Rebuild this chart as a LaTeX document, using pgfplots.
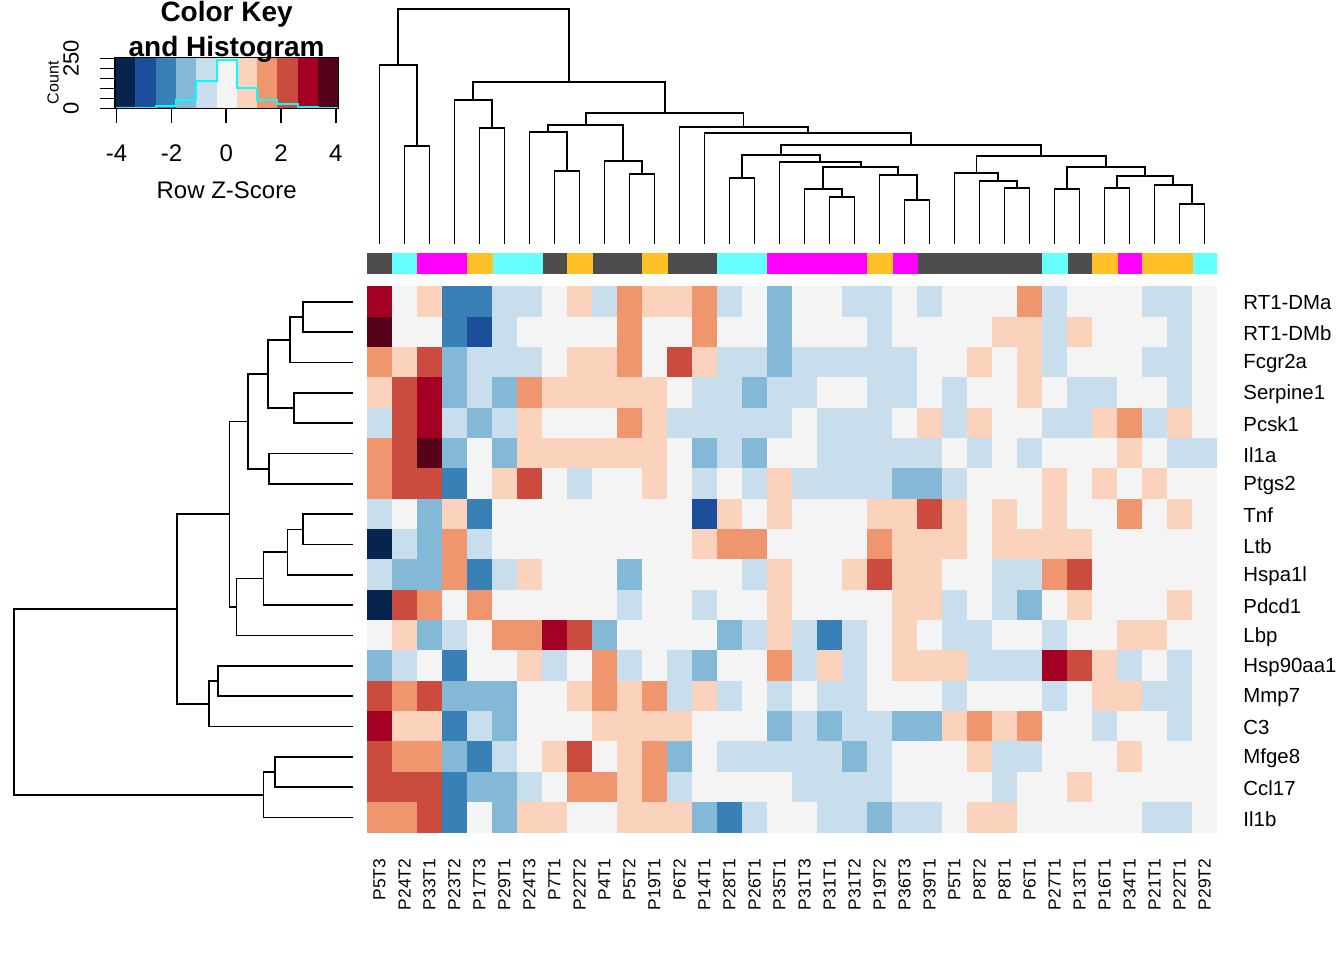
\documentclass[border=0pt]{standalone}
\usepackage{fontspec}
\setmainfont{Liberation Sans}
\usepackage{pgfplots}
\pgfplotsset{compat=1.18}
\definecolor{k0}{HTML}{07244F}
\definecolor{k1}{HTML}{1C4F9B}
\definecolor{k2}{HTML}{3980B7}
\definecolor{k3}{HTML}{84B8D7}
\definecolor{k4}{HTML}{C8DEEC}
\definecolor{k5}{HTML}{F4F4F4}
\definecolor{k6}{HTML}{FBD3BD}
\definecolor{k7}{HTML}{F0966F}
\definecolor{k8}{HTML}{CB4B3E}
\definecolor{k9}{HTML}{A30023}
\definecolor{k10}{HTML}{57001A}
\definecolor{gGrey}{HTML}{4D4D4D}
\definecolor{gCyan}{HTML}{66FFFF}
\definecolor{gMag}{HTML}{FF00FF}
\definecolor{gOr}{HTML}{FFC125}
\definecolor{hCyan}{rgb}{0,1,1}
\pgfplotsset{dend/.style={black, line width=0.8pt, mark=none}}
\begin{document}
\begin{tikzpicture}
\useasboundingbox (0,0) rectangle (672pt,480pt);
% ---------------- heatmap ----------------
\begin{axis}[at={(183.5pt,63.65pt)}, anchor=south west, scale only axis,
  width=425pt, height=273pt,
  xmin=-0.5, xmax=33.5, ymin=-0.5, ymax=17.5, y dir=reverse,
  axis line style={draw=none}, major tick length=0pt,
  xtick={0,...,33},
  xticklabels={P5T3,P24T2,P33T1,P23T2,P17T3,P29T1,P24T3,P7T1,P22T2,P4T1,P5T2,P19T1,P6T2,P14T1,P28T1,P26T1,P35T1,P31T3,P31T1,P31T2,P19T2,P36T3,P39T1,P5T1,P8T2,P8T1,P6T1,P27T1,P13T1,P16T1,P34T1,P21T1,P22T1,P29T2},
  xticklabel style={yshift=-9.5pt, rotate=90, anchor=east, font=\fontsize{8.7}{10}\selectfont},
  ytick={0,...,17},
  yticklabels={RT1-DMa,RT1-DMb,Fcgr2a,Serpine1,Pcsk1,Il1a,Ptgs2,Tnf,Ltb,Hspa1l,Pdcd1,Lbp,Hsp90aa1,Mmp7,C3,Mfge8,Ccl17,Il1b},
  yticklabel pos=right,
  yticklabel style={anchor=west, xshift=9.7pt, yshift=-0.6pt, font=\fontsize{10.2}{12}\selectfont},
  colormap={rdbu}{rgb255=(7,36,79) rgb255=(28,79,155) rgb255=(57,128,183) rgb255=(132,184,215) rgb255=(200,222,236) rgb255=(244,244,244) rgb255=(251,211,189) rgb255=(240,150,111) rgb255=(203,75,62) rgb255=(163,0,35) rgb255=(87,0,26)},
  ]
\addplot[matrix plot*, mesh/cols=34, point meta=explicit, colormap access=direct] coordinates {
(0,0)[9] (1,0)[5] (2,0)[6] (3,0)[2] (4,0)[2] (5,0)[4] (6,0)[4] (7,0)[5] (8,0)[6] (9,0)[4] (10,0)[7] (11,0)[6] (12,0)[6] (13,0)[7] (14,0)[4] (15,0)[5] (16,0)[3] (17,0)[5] (18,0)[5] (19,0)[4] (20,0)[4] (21,0)[5] (22,0)[4] (23,0)[5] (24,0)[5] (25,0)[5] (26,0)[7] (27,0)[4] (28,0)[5] (29,0)[5] (30,0)[5] (31,0)[4] (32,0)[4] (33,0)[5]
(0,1)[10] (1,1)[5] (2,1)[5] (3,1)[2] (4,1)[1] (5,1)[4] (6,1)[5] (7,1)[5] (8,1)[5] (9,1)[5] (10,1)[7] (11,1)[5] (12,1)[5] (13,1)[7] (14,1)[5] (15,1)[5] (16,1)[3] (17,1)[5] (18,1)[5] (19,1)[5] (20,1)[4] (21,1)[5] (22,1)[5] (23,1)[5] (24,1)[5] (25,1)[6] (26,1)[6] (27,1)[4] (28,1)[6] (29,1)[5] (30,1)[5] (31,1)[5] (32,1)[4] (33,1)[5]
(0,2)[7] (1,2)[6] (2,2)[8] (3,2)[3] (4,2)[4] (5,2)[4] (6,2)[4] (7,2)[5] (8,2)[6] (9,2)[6] (10,2)[7] (11,2)[5] (12,2)[8] (13,2)[6] (14,2)[4] (15,2)[4] (16,2)[3] (17,2)[4] (18,2)[4] (19,2)[4] (20,2)[4] (21,2)[4] (22,2)[5] (23,2)[5] (24,2)[6] (25,2)[5] (26,2)[6] (27,2)[4] (28,2)[5] (29,2)[5] (30,2)[5] (31,2)[4] (32,2)[4] (33,2)[5]
(0,3)[6] (1,3)[8] (2,3)[9] (3,3)[3] (4,3)[4] (5,3)[3] (6,3)[7] (7,3)[6] (8,3)[6] (9,3)[6] (10,3)[6] (11,3)[6] (12,3)[5] (13,3)[4] (14,3)[4] (15,3)[3] (16,3)[4] (17,3)[4] (18,3)[5] (19,3)[5] (20,3)[4] (21,3)[4] (22,3)[5] (23,3)[4] (24,3)[5] (25,3)[5] (26,3)[6] (27,3)[5] (28,3)[4] (29,3)[4] (30,3)[5] (31,3)[5] (32,3)[4] (33,3)[5]
(0,4)[4] (1,4)[8] (2,4)[9] (3,4)[4] (4,4)[3] (5,4)[4] (6,4)[6] (7,4)[5] (8,4)[5] (9,4)[5] (10,4)[7] (11,4)[6] (12,4)[4] (13,4)[4] (14,4)[4] (15,4)[4] (16,4)[4] (17,4)[5] (18,4)[4] (19,4)[4] (20,4)[4] (21,4)[5] (22,4)[6] (23,4)[4] (24,4)[6] (25,4)[5] (26,4)[5] (27,4)[4] (28,4)[4] (29,4)[6] (30,4)[7] (31,4)[4] (32,4)[6] (33,4)[5]
(0,5)[7] (1,5)[8] (2,5)[10] (3,5)[3] (4,5)[5] (5,5)[3] (6,5)[6] (7,5)[6] (8,5)[6] (9,5)[6] (10,5)[6] (11,5)[6] (12,5)[5] (13,5)[3] (14,5)[4] (15,5)[3] (16,5)[5] (17,5)[5] (18,5)[4] (19,5)[4] (20,5)[4] (21,5)[4] (22,5)[4] (23,5)[5] (24,5)[4] (25,5)[5] (26,5)[4] (27,5)[5] (28,5)[5] (29,5)[5] (30,5)[6] (31,5)[5] (32,5)[4] (33,5)[4]
(0,6)[7] (1,6)[8] (2,6)[8] (3,6)[2] (4,6)[5] (5,6)[6] (6,6)[8] (7,6)[5] (8,6)[4] (9,6)[5] (10,6)[5] (11,6)[6] (12,6)[5] (13,6)[4] (14,6)[5] (15,6)[4] (16,6)[6] (17,6)[4] (18,6)[4] (19,6)[4] (20,6)[4] (21,6)[3] (22,6)[3] (23,6)[4] (24,6)[5] (25,6)[5] (26,6)[5] (27,6)[6] (28,6)[5] (29,6)[6] (30,6)[5] (31,6)[6] (32,6)[5] (33,6)[5]
(0,7)[4] (1,7)[5] (2,7)[3] (3,7)[6] (4,7)[2] (5,7)[5] (6,7)[5] (7,7)[5] (8,7)[5] (9,7)[5] (10,7)[5] (11,7)[5] (12,7)[5] (13,7)[1] (14,7)[6] (15,7)[5] (16,7)[6] (17,7)[5] (18,7)[5] (19,7)[5] (20,7)[6] (21,7)[6] (22,7)[8] (23,7)[6] (24,7)[5] (25,7)[6] (26,7)[5] (27,7)[6] (28,7)[5] (29,7)[5] (30,7)[7] (31,7)[5] (32,7)[6] (33,7)[5]
(0,8)[0] (1,8)[4] (2,8)[3] (3,8)[7] (4,8)[4] (5,8)[5] (6,8)[5] (7,8)[5] (8,8)[5] (9,8)[5] (10,8)[5] (11,8)[5] (12,8)[5] (13,8)[6] (14,8)[7] (15,8)[7] (16,8)[5] (17,8)[5] (18,8)[5] (19,8)[5] (20,8)[7] (21,8)[6] (22,8)[6] (23,8)[6] (24,8)[5] (25,8)[6] (26,8)[6] (27,8)[6] (28,8)[6] (29,8)[5] (30,8)[5] (31,8)[5] (32,8)[5] (33,8)[5]
(0,9)[4] (1,9)[3] (2,9)[3] (3,9)[7] (4,9)[2] (5,9)[4] (6,9)[6] (7,9)[5] (8,9)[5] (9,9)[5] (10,9)[3] (11,9)[5] (12,9)[5] (13,9)[5] (14,9)[5] (15,9)[4] (16,9)[6] (17,9)[5] (18,9)[5] (19,9)[6] (20,9)[8] (21,9)[6] (22,9)[6] (23,9)[5] (24,9)[5] (25,9)[4] (26,9)[4] (27,9)[7] (28,9)[8] (29,9)[5] (30,9)[5] (31,9)[5] (32,9)[5] (33,9)[5]
(0,10)[0] (1,10)[8] (2,10)[7] (3,10)[5] (4,10)[7] (5,10)[5] (6,10)[5] (7,10)[5] (8,10)[5] (9,10)[5] (10,10)[4] (11,10)[5] (12,10)[5] (13,10)[4] (14,10)[5] (15,10)[5] (16,10)[6] (17,10)[5] (18,10)[5] (19,10)[5] (20,10)[5] (21,10)[6] (22,10)[6] (23,10)[4] (24,10)[5] (25,10)[4] (26,10)[3] (27,10)[5] (28,10)[6] (29,10)[5] (30,10)[5] (31,10)[5] (32,10)[6] (33,10)[5]
(0,11)[5] (1,11)[6] (2,11)[3] (3,11)[4] (4,11)[5] (5,11)[7] (6,11)[7] (7,11)[9] (8,11)[8] (9,11)[3] (10,11)[5] (11,11)[5] (12,11)[5] (13,11)[5] (14,11)[3] (15,11)[4] (16,11)[6] (17,11)[4] (18,11)[2] (19,11)[4] (20,11)[5] (21,11)[6] (22,11)[5] (23,11)[4] (24,11)[4] (25,11)[5] (26,11)[5] (27,11)[4] (28,11)[5] (29,11)[5] (30,11)[6] (31,11)[6] (32,11)[5] (33,11)[5]
(0,12)[3] (1,12)[4] (2,12)[5] (3,12)[2] (4,12)[5] (5,12)[5] (6,12)[6] (7,12)[4] (8,12)[5] (9,12)[7] (10,12)[4] (11,12)[5] (12,12)[4] (13,12)[3] (14,12)[5] (15,12)[5] (16,12)[7] (17,12)[4] (18,12)[6] (19,12)[4] (20,12)[5] (21,12)[6] (22,12)[6] (23,12)[6] (24,12)[4] (25,12)[4] (26,12)[4] (27,12)[9] (28,12)[8] (29,12)[6] (30,12)[4] (31,12)[5] (32,12)[4] (33,12)[5]
(0,13)[8] (1,13)[7] (2,13)[8] (3,13)[3] (4,13)[3] (5,13)[3] (6,13)[5] (7,13)[5] (8,13)[6] (9,13)[7] (10,13)[6] (11,13)[7] (12,13)[4] (13,13)[6] (14,13)[4] (15,13)[5] (16,13)[4] (17,13)[5] (18,13)[4] (19,13)[4] (20,13)[5] (21,13)[5] (22,13)[5] (23,13)[4] (24,13)[5] (25,13)[5] (26,13)[5] (27,13)[4] (28,13)[5] (29,13)[6] (30,13)[6] (31,13)[4] (32,13)[4] (33,13)[5]
(0,14)[9] (1,14)[6] (2,14)[6] (3,14)[2] (4,14)[4] (5,14)[3] (6,14)[5] (7,14)[5] (8,14)[5] (9,14)[6] (10,14)[6] (11,14)[6] (12,14)[6] (13,14)[5] (14,14)[5] (15,14)[5] (16,14)[3] (17,14)[4] (18,14)[3] (19,14)[4] (20,14)[4] (21,14)[3] (22,14)[3] (23,14)[6] (24,14)[7] (25,14)[6] (26,14)[7] (27,14)[5] (28,14)[5] (29,14)[4] (30,14)[5] (31,14)[5] (32,14)[4] (33,14)[5]
(0,15)[8] (1,15)[7] (2,15)[7] (3,15)[3] (4,15)[2] (5,15)[4] (6,15)[5] (7,15)[6] (8,15)[8] (9,15)[5] (10,15)[6] (11,15)[7] (12,15)[3] (13,15)[5] (14,15)[4] (15,15)[4] (16,15)[4] (17,15)[4] (18,15)[4] (19,15)[3] (20,15)[4] (21,15)[5] (22,15)[5] (23,15)[5] (24,15)[6] (25,15)[4] (26,15)[4] (27,15)[5] (28,15)[5] (29,15)[5] (30,15)[6] (31,15)[5] (32,15)[5] (33,15)[5]
(0,16)[8] (1,16)[8] (2,16)[8] (3,16)[2] (4,16)[3] (5,16)[3] (6,16)[4] (7,16)[5] (8,16)[7] (9,16)[7] (10,16)[6] (11,16)[7] (12,16)[4] (13,16)[5] (14,16)[5] (15,16)[5] (16,16)[5] (17,16)[4] (18,16)[4] (19,16)[4] (20,16)[4] (21,16)[5] (22,16)[5] (23,16)[5] (24,16)[5] (25,16)[4] (26,16)[5] (27,16)[5] (28,16)[6] (29,16)[5] (30,16)[5] (31,16)[5] (32,16)[5] (33,16)[5]
(0,17)[7] (1,17)[7] (2,17)[8] (3,17)[2] (4,17)[5] (5,17)[3] (6,17)[6] (7,17)[6] (8,17)[5] (9,17)[5] (10,17)[6] (11,17)[6] (12,17)[6] (13,17)[3] (14,17)[2] (15,17)[4] (16,17)[5] (17,17)[5] (18,17)[4] (19,17)[4] (20,17)[3] (21,17)[4] (22,17)[4] (23,17)[5] (24,17)[6] (25,17)[6] (26,17)[5] (27,17)[5] (28,17)[5] (29,17)[5] (30,17)[5] (31,17)[4] (32,17)[4] (33,17)[5]
};
\end{axis}
% ---------------- column side colours ----------------
\begin{axis}[at={(183.5pt,343.35pt)}, anchor=south west, scale only axis,
  width=425pt, height=10pt, xmin=-0.5, xmax=33.5, ymin=0, ymax=1, hide axis]
\addplot[ybar, bar width=1, bar shift=0pt, fill=gGrey, draw=gGrey, line width=0.2pt] coordinates {(0,1)(7,1)(9,1)(10,1)(12,1)(13,1)(22,1)(23,1)(24,1)(25,1)(26,1)(28,1)};
\addplot[ybar, bar width=1, bar shift=0pt, fill=gCyan, draw=gCyan, line width=0.2pt] coordinates {(1,1)(5,1)(6,1)(14,1)(15,1)(27,1)(33,1)};
\addplot[ybar, bar width=1, bar shift=0pt, fill=gMag, draw=gMag, line width=0.2pt] coordinates {(2,1)(3,1)(16,1)(17,1)(18,1)(19,1)(21,1)(30,1)};
\addplot[ybar, bar width=1, bar shift=0pt, fill=gOr, draw=gOr, line width=0.2pt] coordinates {(4,1)(8,1)(11,1)(20,1)(29,1)(31,1)(32,1)};
\end{axis}
% ---------------- column dendrogram ----------------
\begin{axis}[at={(183.5pt,358pt)}, anchor=south west, scale only axis,
  width=425pt, height=122pt, xmin=-0.5, xmax=33.5, ymin=0, ymax=244, y dir=reverse,
  hide axis, clip=false]
\addplot[dend] coordinates {(1,244)(1,146)(2,146)(2,244)};
\addplot[dend] coordinates {(0,244)(0,65)(1.5,65)(1.5,146)};
\addplot[dend] coordinates {(4,244)(4,128)(5,128)(5,244)};
\addplot[dend] coordinates {(3,244)(3,100)(4.5,100)(4.5,128)};
\addplot[dend] coordinates {(7,244)(7,171)(8,171)(8,244)};
\addplot[dend] coordinates {(6,244)(6,132)(7.5,132)(7.5,171)};
\addplot[dend] coordinates {(10,244)(10,174)(11,174)(11,244)};
\addplot[dend] coordinates {(9,244)(9,161)(10.5,161)(10.5,174)};
\addplot[dend] coordinates {(6.75,132)(6.75,125)(9.75,125)(9.75,161)};
\addplot[dend] coordinates {(14,244)(14,178)(15,178)(15,244)};
\addplot[dend] coordinates {(18,244)(18,197)(19,197)(19,244)};
\addplot[dend] coordinates {(17,244)(17,189)(18.5,189)(18.5,197)};
\addplot[dend] coordinates {(21,244)(21,200)(22,200)(22,244)};
\addplot[dend] coordinates {(20,244)(20,175)(21.5,175)(21.5,200)};
\addplot[dend] coordinates {(17.75,189)(17.75,167)(20.75,167)(20.75,175)};
\addplot[dend] coordinates {(16,244)(16,162)(19.25,162)(19.25,167)};
\addplot[dend] coordinates {(14.5,178)(14.5,155)(17.625,155)(17.625,162)};
\addplot[dend] coordinates {(25,244)(25,188)(26,188)(26,244)};
\addplot[dend] coordinates {(24,244)(24,181)(25.5,181)(25.5,188)};
\addplot[dend] coordinates {(23,244)(23,173)(24.75,173)(24.75,181)};
\addplot[dend] coordinates {(27,244)(27,189)(28,189)(28,244)};
\addplot[dend] coordinates {(29,244)(29,188)(30,188)(30,244)};
\addplot[dend] coordinates {(32,244)(32,204)(33,204)(33,244)};
\addplot[dend] coordinates {(31,244)(31,185)(32.5,185)(32.5,204)};
\addplot[dend] coordinates {(29.5,188)(29.5,176)(31.75,176)(31.75,185)};
\addplot[dend] coordinates {(27.5,189)(27.5,167)(30.625,167)(30.625,176)};
\addplot[dend] coordinates {(23.875,173)(23.875,156)(29.0625,156)(29.0625,167)};
\addplot[dend] coordinates {(16.0625,155)(16.0625,145)(26.46875,145)(26.46875,156)};
\addplot[dend] coordinates {(13,244)(13,133)(21.2656,133)(21.2656,145)};
\addplot[dend] coordinates {(12,244)(12,127)(17.1328,127)(17.1328,133)};
\addplot[dend] coordinates {(8.25,125)(8.25,113)(14.5664,113)(14.5664,127)};
\addplot[dend] coordinates {(3.75,100)(3.75,82)(11.4082,82)(11.4082,113)};
\addplot[dend] coordinates {(0.75,65)(0.75,9)(7.5791,9)(7.5791,82)};
\end{axis}
% ---------------- row dendrogram ----------------
\begin{axis}[at={(0pt,63.65pt)}, anchor=south west, scale only axis,
  width=176.65pt, height=273pt, xmin=0, xmax=353.3, ymin=-0.5, ymax=17.5, y dir=reverse,
  hide axis, clip=false]
\addplot[dend] coordinates {(353.3,0)(302.7,0)(302.7,1)(353.3,1)};
\addplot[dend] coordinates {(302.7,0.5)(290,0.5)(290,2)(353.3,2)};
\addplot[dend] coordinates {(353.3,3)(293.7,3)(293.7,4)(353.3,4)};
\addplot[dend] coordinates {(290,1.25)(267.7,1.25)(267.7,3.5)(293.7,3.5)};
\addplot[dend] coordinates {(353.3,5)(269,5)(269,6)(353.3,6)};
\addplot[dend] coordinates {(267.7,2.375)(247.7,2.375)(247.7,5.5)(269,5.5)};
\addplot[dend] coordinates {(353.3,7)(302.7,7)(302.7,8)(353.3,8)};
\addplot[dend] coordinates {(302.7,7.5)(287.3,7.5)(287.3,9)(353.3,9)};
\addplot[dend] coordinates {(287.3,8.25)(263.3,8.25)(263.3,10)(353.3,10)};
\addplot[dend] coordinates {(263.3,9.125)(236.3,9.125)(236.3,11)(353.3,11)};
\addplot[dend] coordinates {(247.7,3.9375)(229.3,3.9375)(229.3,10.0625)(236.3,10.0625)};
\addplot[dend] coordinates {(353.3,12)(218,12)(218,13)(353.3,13)};
\addplot[dend] coordinates {(218,12.5)(208.7,12.5)(208.7,14)(353.3,14)};
\addplot[dend] coordinates {(229.3,7)(177,7)(177,13.25)(208.7,13.25)};
\addplot[dend] coordinates {(353.3,15)(275,15)(275,16)(353.3,16)};
\addplot[dend] coordinates {(275,15.5)(263.3,15.5)(263.3,17)(353.3,17)};
\addplot[dend] coordinates {(177,10.125)(13.7,10.125)(13.7,16.25)(263.3,16.25)};
\end{axis}
% ---------------- colour key ----------------
\begin{axis}[at={(57.5pt,425.85pt)}, anchor=south west, scale only axis,
  width=111.65pt, height=25.5pt, xmin=-4.06, xmax=4.09, ymin=0, ymax=255,
  axis on top, clip=false, tick align=outside, major tick length=7.5pt,
  axis line style={line width=0.75pt}, every tick/.style={black, line width=0.75pt},
  xtick={-4,-2,0,2,4}, xticklabels={-4,-2,0,2,4}, xtick pos=lower,
  ytick={0,50,100,150,200,250}, yticklabels={0,,,,,250}, ytick pos=left,
  xticklabel style={font=\fontsize{12}{14}\selectfont, anchor=center, yshift=-15pt},
  yticklabel style={font=\fontsize{11}{13}\selectfont, xshift=-14.5pt, rotate=90, anchor=center},
  xlabel={Row Z-Score}, ylabel={Count},
  every axis x label/.style={at={(axis description cs:0.5,0)}, anchor=center, yshift=-41pt, font=\fontsize{12}{14}\selectfont},
  every axis y label/.style={at={(axis description cs:0,0.5)}, xshift=-31pt, rotate=90, anchor=center, font=\fontsize{8}{10}\selectfont},
  ]
\addplot[fill=k0, draw=none] coordinates {(-4.06,0)(-3.319,0)(-3.319,255)(-4.06,255)} --cycle;
\addplot[fill=k1, draw=none] coordinates {(-3.319,0)(-2.578,0)(-2.578,255)(-3.319,255)} --cycle;
\addplot[fill=k2, draw=none] coordinates {(-2.578,0)(-1.837,0)(-1.837,255)(-2.578,255)} --cycle;
\addplot[fill=k3, draw=none] coordinates {(-1.837,0)(-1.096,0)(-1.096,255)(-1.837,255)} --cycle;
\addplot[fill=k4, draw=none] coordinates {(-1.096,0)(-0.355,0)(-0.355,255)(-1.096,255)} --cycle;
\addplot[fill=k5, draw=none] coordinates {(-0.355,0)(0.385,0)(0.385,255)(-0.355,255)} --cycle;
\addplot[fill=k6, draw=none] coordinates {(0.385,0)(1.126,0)(1.126,255)(0.385,255)} --cycle;
\addplot[fill=k7, draw=none] coordinates {(1.126,0)(1.867,0)(1.867,255)(1.126,255)} --cycle;
\addplot[fill=k8, draw=none] coordinates {(1.867,0)(2.608,0)(2.608,255)(1.867,255)} --cycle;
\addplot[fill=k9, draw=none] coordinates {(2.608,0)(3.349,0)(3.349,255)(2.608,255)} --cycle;
\addplot[fill=k10, draw=none] coordinates {(3.349,0)(4.09,0)(4.09,255)(3.349,255)} --cycle;
\addplot[const plot, hCyan, line width=1pt, mark=none] coordinates {(-4.06,2)(-3.319,2)(-2.578,13)(-1.837,42)(-1.096,138)(-0.355,242)(0.385,100)(1.126,42)(1.867,22)(2.608,6)(3.349,2)(4.09,2)};
\node[anchor=base, yshift=17.8pt, font=\bfseries\fontsize{14}{16}\selectfont] at (rel axis cs:0.5,1) {Color Key};
\node[anchor=base, yshift=0.3pt, font=\bfseries\fontsize{14}{16}\selectfont] at (rel axis cs:0.5,1) {and Histogram};
\end{axis}
\end{tikzpicture}
\end{document}
